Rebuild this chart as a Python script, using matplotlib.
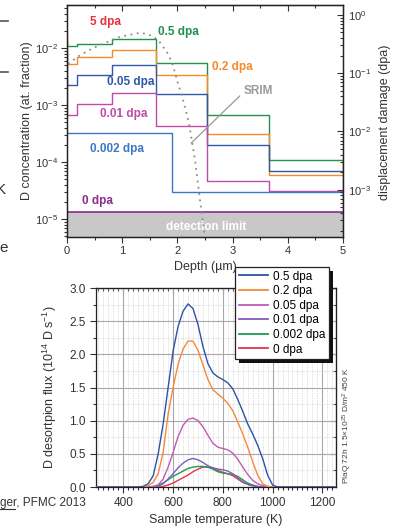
import matplotlib
matplotlib.use('Agg')
import matplotlib.pyplot as plt
import numpy as np
from matplotlib.ticker import LogLocator, MultipleLocator, NullFormatter
from matplotlib.patches import Rectangle
from matplotlib.lines import Line2D

plt.rcParams['font.family'] = ['Liberation Sans', 'DejaVu Sans']
plt.rcParams['mathtext.fontset'] = 'custom'
plt.rcParams['mathtext.rm'] = 'Liberation Sans'
plt.rcParams['mathtext.it'] = 'Liberation Sans:italic'
plt.rcParams['mathtext.bf'] = 'Liberation Sans:bold'

# ---- top panel: depth profiles (left axis) ----
depth_edges = [0, 0, 0.18, 0.82, 1.61, 2.54, 3.66, 5.0]
conc_05 = [0.0125, 0.0108, 0.0118, 0.0144, 0.0055, 6.6e-4, 1.1e-4, 7.9e-5]
conc_02 = [0.018, 5.2e-3, 6.9e-3, 9.2e-3, 3.4e-3, 3.1e-4, 5.9e-5, 1.3e-4]
conc_005 = [8.2e-3, 2.24e-3, 3.4e-3, 5.0e-3, 1.56e-3, 2.0e-4, 6.9e-5, 2.1e-5]
conc_001 = [2.75e-3, 6.6e-4, 1.04e-3, 1.6e-3, 4.3e-4, 4.7e-5, 3.1e-5, 6e-6]
depth_0002 = [0, 1.9, 5.0]
conc_0002 = [3.2e-4, 3.0e-5, 3.0e-5]
depth_0 = [0, 0, 5.0]
conc_0 = [2.5e-3, 1.3e-5, 1.3e-5]
detection_limit = 1.3e-5

# SRIM damage profile (right axis)
srim_depth = [0.02, 0.24, 0.47, 0.72, 0.96, 1.20, 1.32, 1.45, 1.56, 1.68, 1.81,
              1.90, 1.96, 2.01, 2.08, 2.21, 2.32, 2.41, 2.50]
srim_dpa = [0.145, 0.204, 0.27, 0.34, 0.42, 0.47, 0.49, 0.47, 0.43, 0.34, 0.23,
            0.155, 0.10, 0.067, 0.042, 0.0138, 0.0032, 6.5e-4, 1.5e-4]

# ---- bottom panel: TDS spectra ----
temp = [290, 460, 480, 500, 520, 540, 560, 580, 600, 620, 640, 660, 680, 700, 720,
        740, 760, 780, 800, 820, 840, 860, 880, 900, 920, 940, 960, 980, 1000, 1020, 1250]
flux_05 = [0, 0, 0.01, 0.05, 0.17, 0.5, 0.95, 1.5, 2.05, 2.42, 2.65, 2.76, 2.69, 2.45, 2.12,
           1.86, 1.72, 1.66, 1.62, 1.57, 1.48, 1.32, 1.14, 0.95, 0.8, 0.63, 0.43, 0.18, 0.03, 0, 0]
flux_02 = [0, 0, 0, 0.02, 0.07, 0.2, 0.52, 1.1, 1.5, 1.85, 2.08, 2.2, 2.2, 2.06, 1.84,
           1.62, 1.47, 1.4, 1.34, 1.26, 1.15, 0.98, 0.8, 0.6, 0.38, 0.18, 0.05, 0.01, 0, 0, 0]
flux_005 = [0, 0, 0, 0, 0, 0.03, 0.12, 0.3, 0.52, 0.76, 0.93, 1.02, 1.04, 1.0, 0.91,
            0.78, 0.66, 0.6, 0.58, 0.56, 0.51, 0.42, 0.3, 0.19, 0.1, 0.05, 0.02, 0.005, 0, 0, 0]
flux_001 = [0, 0, 0, 0, 0, 0.01, 0.05, 0.12, 0.2, 0.29, 0.36, 0.41, 0.43, 0.41, 0.37,
            0.32, 0.29, 0.27, 0.26, 0.24, 0.2, 0.14, 0.08, 0.04, 0.015, 0.005, 0, 0, 0, 0, 0]
flux_0002 = [0, 0, 0, 0, 0.01, 0.03, 0.06, 0.11, 0.16, 0.2, 0.24, 0.28, 0.3, 0.31, 0.31,
             0.3, 0.27, 0.23, 0.21, 0.2, 0.19, 0.16, 0.11, 0.06, 0.03, 0.01, 0, 0, 0, 0, 0]
flux_0 = [0, 0, 0, 0, 0, 0, 0.01, 0.03, 0.06, 0.1, 0.14, 0.18, 0.23, 0.27, 0.3,
          0.3, 0.28, 0.25, 0.22, 0.2, 0.17, 0.12, 0.07, 0.04, 0.02, 0.005, 0, 0, 0, 0, 0]
tds_labels = ['0.5 dpa', '0.2 dpa', '0.05 dpa', '0.01 dpa', '0.002 dpa', '0 dpa']
tds_colors = ['#2c52a8', '#f5893a', '#c35ab5', '#7e5cc0', '#1f9a50', '#e8334a']

W, H = 398, 529
fig = plt.figure(figsize=(W / 100, H / 100), dpi=100)
tc = '#333333'

# ================= top panel =================
ax1 = fig.add_axes([67 / W, 1 - 237 / H, 276 / W, 232 / H])
ax1.set_yscale('log')
ax1.set_xlim(0, 5)
ax1.set_ylim(10 ** -5.316, 10 ** -1.246)
ax1.axhspan(1e-8, detection_limit, color='#c8c8c8', zorder=0, lw=0)

ax1.step(depth_edges, conc_05, where='post', color='#1f9150', lw=1.0)
ax1.step(depth_edges, conc_02, where='post', color='#f58a2c', lw=1.0)
ax1.step(depth_edges, conc_005, where='post', color='#2e58a8', lw=1.0)
ax1.step(depth_edges, conc_001, where='post', color='#c04aa8', lw=1.0)
ax1.step(depth_0002, conc_0002, where='post', color='#3b78c8', lw=1.0)
ax1.step(depth_0, conc_0, where='post', color='#8b2b8b', lw=1.2)

ax1.set_xticks([0, 1, 2, 3, 4, 5])
ax1.xaxis.set_minor_locator(MultipleLocator(0.5))
ax1.yaxis.set_major_locator(LogLocator(base=10, numticks=10))
ax1.yaxis.set_minor_locator(LogLocator(base=10, subs=np.arange(2, 10), numticks=10))
ax1.yaxis.set_minor_formatter(NullFormatter())
ax1.tick_params(which='both', direction='out', colors=tc, labelsize=8, width=0.8, pad=2.5)
ax1.tick_params(which='major', length=4)
ax1.tick_params(which='minor', length=2)
top1 = ax1.secondary_xaxis('top')
top1.set_xticks([0, 1, 2, 3, 4, 5])
top1.xaxis.set_minor_locator(MultipleLocator(0.5))
top1.tick_params(which='both', direction='in', labeltop=False, colors=tc, width=0.8)
top1.tick_params(which='major', length=4)
top1.tick_params(which='minor', length=2)

ax1r = ax1.twinx()
ax1r.set_yscale('log')
ax1r.set_ylim(10 ** -3.81, 10 ** 0.17)
ax1r.plot(srim_depth, srim_dpa, color='#8c8c8c', lw=1.3, linestyle=(0, (1, 2.5)))
ax1r.yaxis.set_major_locator(LogLocator(base=10, numticks=10))
ax1r.yaxis.set_minor_locator(LogLocator(base=10, subs=np.arange(2, 10), numticks=10))
ax1r.yaxis.set_minor_formatter(NullFormatter())
ax1r.tick_params(which='both', direction='in', colors=tc, labelsize=8, width=0.8)
ax1r.tick_params(which='major', length=4)
ax1r.tick_params(which='minor', length=2)
for a in (ax1, ax1r):
    for s in a.spines.values():
        s.set_color('#222222')
        s.set_linewidth(0.9)

bold = dict(fontsize=8.5, fontweight='bold', ha='center', va='center')
ax1.text(0.69, 0.0286, '5 dpa', color='#e8303a', **bold)
ax1.text(2.01, 0.019, '0.5 dpa', color='#1f9150', **bold)
ax1.text(3.0, 4.6e-3, '0.2 dpa', color='#f58a2c', **bold)
ax1.text(1.16, 2.5e-3, '0.05 dpa', color='#2e58a8', **bold)
ax1.text(1.02, 6.95e-4, '0.01 dpa', color='#c04aa8', **bold)
ax1.text(0.9, 1.7e-4, '0.002 dpa', color='#3b78c8', **bold)
ax1.text(0.56, 2.08e-5, '0 dpa', color='#8b2b8b', **bold)
ax1.text(2.52, 7.2e-6, 'detection limit', color='white', **bold)
ax1.text(3.46, 1.76e-3, 'SRIM', color='#999999', **bold)
ax1.plot([3.13, 2.25], [1.44e-3, 2.15e-4], color='#999999', lw=0.9)

fig.text(27 / W, 1 - 121 / H, 'D concentration (at. fraction)', rotation=90,
         ha='center', va='center', fontsize=9, color=tc)
fig.text(385 / W, 1 - 122 / H, 'displacement damage (dpa)', rotation=90,
         ha='center', va='center', fontsize=9, color=tc)
fig.text(205 / W, 1 - 267 / H, 'Depth (µm)', ha='center', va='center',
         fontsize=9, color=tc)

# ================= bottom panel =================
ax2 = fig.add_axes([96 / W, 1 - 487 / H, 240 / W, 199 / H])
series = [flux_05, flux_02, flux_005, flux_001, flux_0002, flux_0]
for vals, col in reversed(list(zip(series, tds_colors))):
    ax2.plot(temp, vals, color=col, lw=1.0, zorder=3)
ax2.set_xlim(290, 1255)
ax2.set_ylim(0, 3.0)
ax2.xaxis.set_major_locator(MultipleLocator(200))
ax2.xaxis.set_minor_locator(MultipleLocator(20))
ax2.yaxis.set_major_locator(MultipleLocator(0.5))
ax2.yaxis.set_minor_locator(MultipleLocator(0.25))
ax2.yaxis.set_major_formatter(lambda v, p: f'{v:.1f}')
ax2.grid(which='major', color='#a8a8a8', lw=0.8)
ax2.grid(which='minor', color='#c4c4c4', lw=0.5, linestyle=(0, (1, 1.5)))
ax2.set_axisbelow(True)
ax2.tick_params(which='both', direction='out', colors=tc, labelsize=8.5, width=0.8)
ax2.tick_params(which='major', length=4)
ax2.tick_params(which='minor', length=2)
top2 = ax2.secondary_xaxis('top')
top2.xaxis.set_major_locator(MultipleLocator(200))
top2.xaxis.set_minor_locator(MultipleLocator(20))
top2.tick_params(which='both', direction='in', labeltop=False, colors=tc, width=0.8)
top2.tick_params(which='major', length=4)
top2.tick_params(which='minor', length=2)
right2 = ax2.secondary_yaxis('right')
right2.yaxis.set_major_locator(MultipleLocator(0.5))
right2.yaxis.set_minor_locator(MultipleLocator(0.25))
right2.tick_params(which='both', direction='in', labelright=False, colors=tc, width=0.8)
right2.tick_params(which='major', length=4)
right2.tick_params(which='minor', length=2)
for s in ax2.spines.values():
    s.set_color('#222222')
    s.set_linewidth(0.9)

handles = [Line2D([], [], color=c, lw=1.3) for c in tds_colors]
leg = ax2.legend(handles, tds_labels, loc='upper left',
                 bbox_to_anchor=(235 / W, 1 - 267 / H), bbox_transform=fig.transFigure,
                 borderaxespad=0, fontsize=8.5, handlelength=2.5, handletextpad=0.4,
                 labelspacing=0.22, borderpad=0.3, fancybox=False, framealpha=1,
                 edgecolor='#222222')
leg.get_frame().set_linewidth(0.9)
leg.set_zorder(10)
fig.canvas.draw()
bb = leg.get_window_extent()
ax2.add_patch(Rectangle((bb.x0 + 4, bb.y0 - 4), bb.width, bb.height, transform=None,
                        facecolor='#111111', edgecolor='none', clip_on=False, zorder=9))

fig.text(50 / W, 1 - 387 / H, r'D desortpion flux (10$^{14}$ D s$^{-1}$)', rotation=90,
         ha='center', va='center', fontsize=9, color=tc)
fig.text(216 / W, 1 - 520 / H, 'Sample temperature (K)', ha='center', va='center',
         fontsize=9, color=tc)
fig.text(347 / W, 1 - 425 / H, r'PlaQ 72h 1.5$\times$10$^{25}$ D/m$^2$ 450 K', rotation=90,
         ha='center', va='center', fontsize=6, color='#444444')

# cropped slide fragments at the left edge
fig.add_artist(Line2D([0, 8 / W], [1 - 21 / H, 1 - 21 / H], color='#555555', lw=1.2))
fig.add_artist(Line2D([0, 8 / W], [1 - 72 / H, 1 - 72 / H], color='#555555', lw=1.2))
fig.text(-4 / W, 1 - 190 / H, 'K', ha='left', va='center', fontsize=11, color=tc)
fig.text(-1 / W, 1 - 248 / H, 'e', ha='left', va='center', fontsize=11, color=tc)
fig.text(0, 1 - 503 / H, 'ger, PFMC 2013', ha='left', va='center', fontsize=8.5, color=tc)
fig.add_artist(Line2D([0, 15 / W], [1 - 509 / H, 1 - 509 / H], color=tc, lw=0.8))

fig.savefig('out.png', dpi=100)
